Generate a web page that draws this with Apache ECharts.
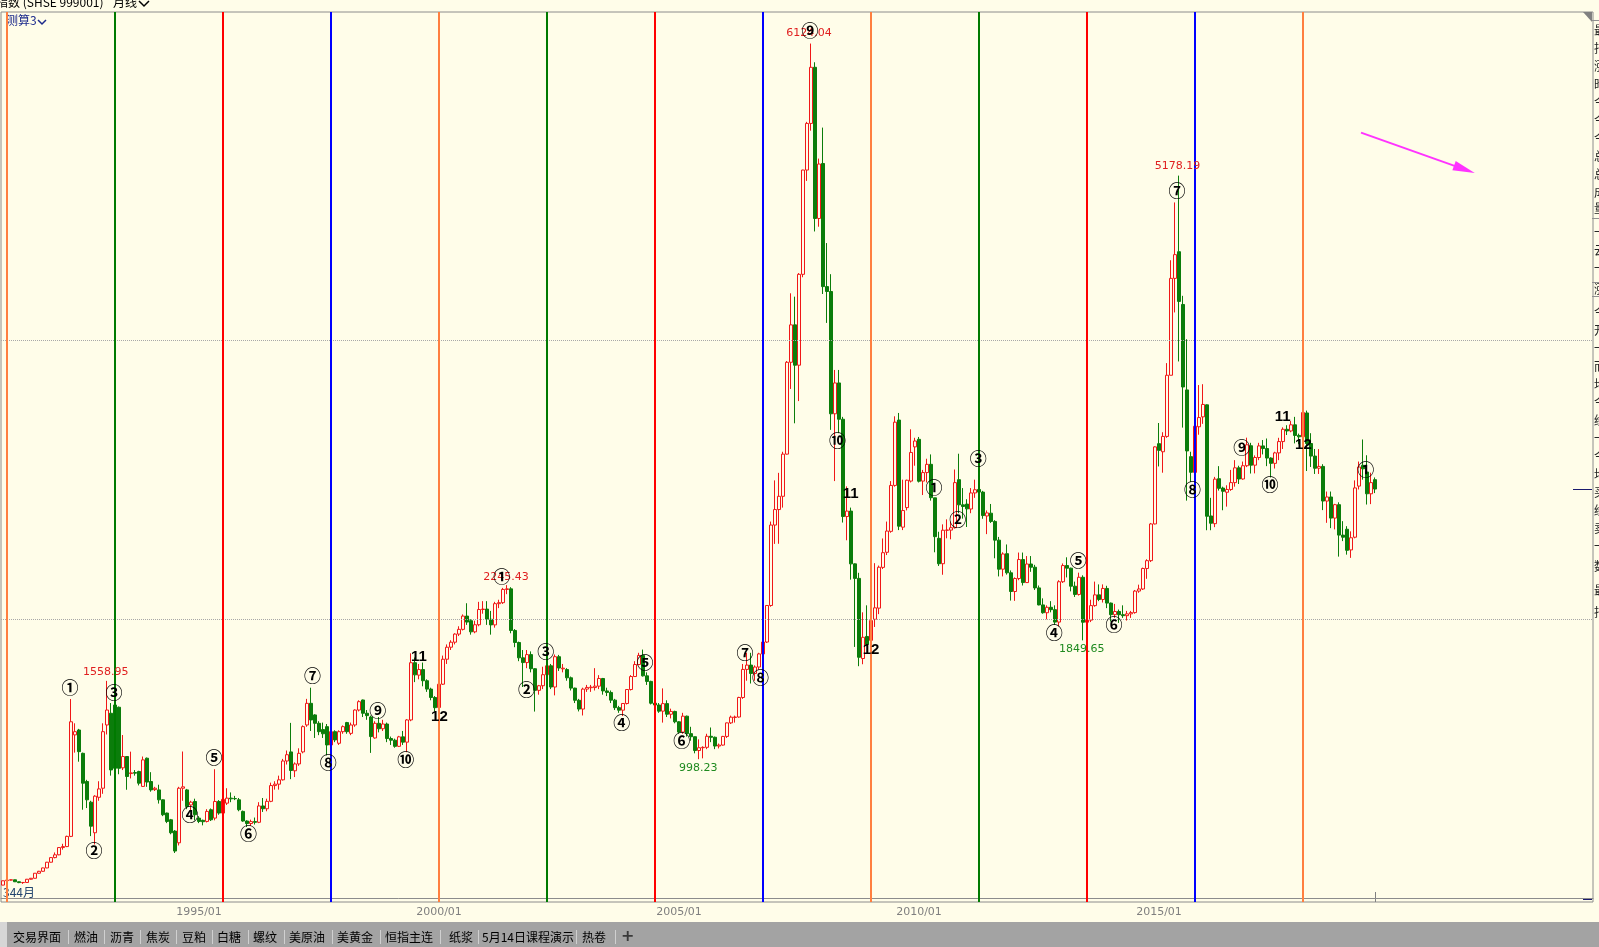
<!DOCTYPE html>
<html><head><meta charset="utf-8">
<script src="https://cdn.jsdelivr.net/npm/echarts@6.0.0/dist/echarts.min.js"></script>
<style>html,body{margin:0;padding:0;background:#fffde9;overflow:hidden}#c{width:1599px;height:947px}</style>
</head><body><div id="c"></div><script>
// Monthly candles of SHSE 999001: rows are [open, close, low, high]
const ohlc1990s = [
 [96,127,95,128],
 [128,132,126,135],[132,134,129,136],[134,120,118,135],[120,114,110,121],[114,115,105,116],[115,138,112,140],[138,145,136,147],[145,181,144,182],[181,195,179,198],[195,219,192,221],[219,260,217,262],[260,293,258,295],
 [293,313,288,330],[313,365,310,366],[365,372,350,392],[372,445,368,450],[445,1266,440,1429],[1172,1195,1045,1255],[1207,1052,980,1215],[1040,826,636,1045],[838,707,648,850],[690,518,447,700],[471,733,387,740],[725,785,700,840],
 [790,1195,750,1255],[1243,1350,1175,1559],[1327,921,880,1400],[1386,933,900,1410],[1370,933,890,1375],[936,1017,920,1171],[1017,874,779,1020],[895,900,860,1052],[902,898,880,920],[910,826,810,915],[803,993,800,1017],[1005,834,800,1010],
 [838,778,765,905],[780,790,770,800],[778,707,680,815],[707,600,590,710],[612,552,540,615],[564,471,460,570],[483,340,326,490],[399,790,380,800],[790,800,700,1053],[778,659,640,785],[670,690,630,700],[695,600,560,715],
 [576,552,540,590],[560,550,524,565],[552,624,545,640],[636,564,555,645],[576,695,560,926],[695,612,600,705],[612,710,600,720],[683,719,670,790],[719,714,690,760],[716,715,705,735],[707,636,625,720],[624,555,550,630],
 [555,537,512,560],[537,551,520,565],[551,546,530,580],[546,663,540,690],[663,643,620,720],[643,696,625,715],[696,809,690,830],[809,819,780,840],[819,850,780,880],[850,985,845,1000],[985,1030,960,1060],[1050,917,855,1258],
 [915,964,870,975],[964,1040,950,1076],[1050,1231,1040,1240],[1243,1398,1230,1430],[1398,1279,1200,1510],[1315,1255,1150,1320],[1255,1195,1170,1270],[1210,1180,1150,1260],[1231,1100,1025,1250],[1100,1195,1090,1200],[1195,1136,1120,1205],[1112,1195,1100,1205],
 [1195,1231,1180,1240],[1260,1195,1180,1265],[1183,1243,1170,1260],[1243,1350,1230,1355],[1350,1410,1340,1420],[1422,1327,1300,1425],[1327,1310,1280,1350],[1300,1160,1043,1310],[1150,1255,1145,1270],[1255,1216,1190,1300],[1216,1250,1200,1280],[1250,1146,1120,1260],
 [1146,1134,1100,1160],[1134,1090,1080,1145],[1090,1158,1085,1165],[1158,1120,1100,1200],[1120,1279,1048,1285],[1279,1689,1270,1756],[1689,1602,1550,1726],[1600,1640,1570,1680],[1640,1560,1520,1690],[1560,1500,1480,1570],[1500,1440,1420,1510],[1440,1367,1341,1450]
];
const ohlc2000s = [
 [1368,1535,1360,1560],[1535,1714,1530,1740],[1714,1800,1680,1820],[1800,1836,1780,1850],[1836,1894,1820,1900],[1894,1928,1880,1950],[1928,2023,1920,2035],[2023,1980,1960,2115],[1990,1910,1890,2000],[1910,1961,1900,1990],[1961,2070,1950,2125],[2070,2073,2040,2130],
 [2073,2000,1960,2130],[2000,1960,1890,2060],[1960,2112,1940,2125],[2112,2119,2080,2140],[2119,2214,2110,2225],[2214,2218,2180,2245],[2218,1920,1900,2230],[1920,1834,1800,1930],[1834,1724,1700,1840],[1724,1690,1515,1780],[1690,1747,1650,1780],[1747,1646,1620,1770],
 [1646,1491,1339,1650],[1491,1524,1460,1530],[1524,1603,1500,1660],[1603,1667,1580,1680],[1667,1515,1500,1680],[1515,1732,1455,1748],[1732,1651,1630,1745],[1645,1650,1620,1680],[1640,1581,1560,1650],[1581,1507,1490,1590],[1507,1420,1400,1510],[1420,1357,1340,1430],
 [1357,1500,1311,1510],[1500,1512,1480,1530],[1510,1514,1480,1530],[1511,1521,1490,1650],[1521,1576,1500,1600],[1576,1487,1460,1580],[1487,1476,1450,1510],[1476,1421,1400,1490],[1421,1367,1350,1430],[1367,1349,1330,1380],[1349,1397,1307,1400],[1397,1497,1390,1500],
 [1497,1590,1490,1600],[1590,1676,1590,1700],[1676,1741,1670,1760],[1741,1595,1590,1783],[1595,1555,1530,1620],[1555,1399,1390,1560],[1399,1386,1350,1420],[1386,1342,1330,1400],[1342,1396,1260,1505],[1396,1320,1300,1420],[1320,1340,1290,1360],[1340,1266,1255,1345],
 [1266,1192,1180,1270],[1192,1306,1180,1330],[1306,1181,1160,1310],[1181,1159,1130,1230],[1159,1060,1040,1160],[1060,1080,998,1140],[1080,1083,1004,1090],[1083,1162,1070,1180],[1162,1155,1120,1225],[1155,1092,1070,1160],[1092,1099,1075,1110],[1099,1161,1095,1165],
 [1161,1258,1150,1260],[1258,1299,1250,1310],[1297,1300,1260,1310],[1300,1440,1295,1445],[1440,1641,1430,1680],[1641,1672,1560,1760],[1672,1612,1540,1760],[1612,1658,1560,1670],[1658,1752,1640,1760],[1752,1837,1740,1840],[1837,2099,1830,2100],[2099,2675,2090,2700],
 [2675,2786,2540,2995],[2786,2881,2541,3049],[2881,3183,2800,3200],[3183,3841,3180,3850],[3841,4109,3650,4335],[4109,3820,3404,4311],[3820,4471,3563,4480],[4471,5218,4450,5220],[5218,5552,5140,5563],[5552,5954,5500,6124],[5954,4871,4778,5990],[4871,5261,4812,5300],
 [5265,4383,4330,5522],[4383,4348,4123,4695],[4348,3472,3357,4472],[3472,3693,2990,3786],[3693,3433,3333,3786],[3433,2736,2693,3450],[2736,2775,2566,2952],[2775,2397,2284,2800],[2397,2293,1802,2400],[2293,1728,1664,2333],[1719,1871,1678,2050],[1877,1820,1814,2100],
 [1849,1991,1844,2010],[2000,2082,1945,2402],[2080,2373,2037,2385],[2372,2477,2360,2579],[2480,2632,2460,2700],[2630,2959,2620,2990],[2959,3412,2950,3454],[3427,2667,2639,3478],[2660,2779,2639,3000],[2800,2996,2780,3000],[2990,3195,2980,3361],[3235,3277,3100,3300]
];
const ohlc2010s = [
 [3289,2989,2980,3306],[2990,3051,2890,3070],[3051,3110,2980,3150],[3110,2871,2850,3181],[2870,2592,2480,2870],[2580,2398,2382,2627],[2398,2638,2319,2680],[2638,2639,2580,2716],[2639,2656,2573,2700],[2656,2979,2650,3073],[3000,2820,2760,3186],[2820,2808,2721,2940],
 [2825,2791,2661,2860],[2790,2905,2760,2940],[2905,2928,2870,3000],[2930,2911,2900,3067],[2911,2743,2720,2920],[2740,2762,2610,2780],[2760,2701,2690,2826],[2701,2567,2437,2710],[2567,2359,2307,2590],[2359,2468,2307,2480],[2470,2333,2320,2536],[2333,2199,2134,2350],
 [2199,2292,2132,2300],[2292,2428,2280,2478],[2428,2263,2242,2478],[2263,2396,2260,2453],[2396,2373,2340,2453],[2373,2225,2210,2390],[2225,2103,2100,2242],[2103,2047,2040,2150],[2047,2086,2000,2100],[2086,2069,2050,2130],[2069,1980,1960,2100],[1980,2269,1949,2280],
 [2269,2385,2260,2400],[2385,2366,2300,2444],[2366,2237,2200,2370],[2237,2178,2160,2270],[2178,2301,2170,2334],[2301,1979,1849,2315],[1979,1994,1950,2090],[1994,2098,1980,2140],[2098,2175,2090,2270],[2175,2142,2130,2250],[2142,2221,2120,2250],[2221,2116,2080,2240],
 [2116,2033,1984,2120],[2033,2056,2010,2110],[2056,2033,1974,2070],[2033,2026,2010,2100],[2026,2039,1991,2060],[2039,2048,2010,2060],[2048,2202,2040,2210],[2202,2217,2190,2248],[2217,2364,2210,2370],[2364,2420,2290,2430],[2420,2683,2410,2690],[2683,3235,2680,3239],
 [3258,3210,3095,3406],[3200,3310,3050,3340],[3310,3748,3300,3835],[3748,4442,3748,4572],[4442,4612,4198,4986],[4633,4277,3847,5178],[4255,3664,3373,4317],[3643,3206,2850,4006],[3165,3053,2983,3200],[3052,3383,3039,3459],[3379,3445,3322,3678],[3450,3539,3400,3684],
 [3536,2738,2638,3539],[2740,2688,2638,2870],[2685,3004,2660,3020],[3007,2938,2922,3097],[2940,2917,2781,2950],[2910,2930,2807,2960],[2930,2979,2920,3070],[2979,3085,2950,3140],[3085,3005,2969,3100],[3005,3100,3000,3130],[3100,3250,3090,3301],[3243,3104,3044,3264],
 [3104,3159,3045,3174],[3159,3242,3140,3264],[3242,3223,3181,3284],[3223,3155,3097,3295],[3155,3117,3016,3160],[3117,3192,3080,3200],[3192,3273,3140,3300],[3273,3361,3220,3375],[3361,3349,3320,3390],[3349,3393,3340,3420],[3393,3317,3260,3450],[3317,3307,3254,3330],
 [3307,3481,3300,3587],[3478,3259,3062,3495],[3259,3169,3091,3333],[3169,3082,3041,3220],[3082,3095,3041,3219],[3095,2847,2782,3111],[2847,2876,2691,2915],[2876,2725,2653,2915],[2725,2821,2644,2827],[2821,2603,2449,2838],[2603,2588,2560,2703],[2645,2494,2463,2667],
 [2497,2584,2440,2630],[2588,2941,2580,2995],[2954,3091,2930,3130],[3103,3078,3000,3288],[3055,2899,2822,3175],[2899,2979,2825,3050],[3000,2933,2904,3016]
];
const startYear = 1990, startMonth = 12;
const slotCount = 398; // months on the axis, data plus empty future
const tickLabels = ['1995/01','2000/01','2005/01','2010/01','2015/01'];
const gridLevels = [2000, 4000];
const cycleMonths = ['1991/01','1993/04','1995/07','1997/10','2000/01','2002/04','2004/07','2006/10','2009/01','2011/04','2013/07','2015/10','2018/01'];
const cycleColors = ['#ff7f3f','#007a00','#ff0000','#0000ff'];
// annotations: [text, month position, price]
const waveMarks = [
 ['①',16.75,1510],['②',22.75,343],['③',27.75,1477],['④',46.75,603],['⑤',52.75,1011],['⑥',61.4,468],['⑦',77.4,1596],['⑧',81.3,976],['⑨',93.7,1345],['⑩',100.7,997],
 ['①',124.7,2305],['②',130.9,1499],['③',135.7,1768],['④',154.7,1259],['⑤',160.5,1689],['⑥',169.7,1135],['⑦',185.5,1764],['⑧',189.4,1584],['⑨',201.75,6217],['⑩',208.6,3280],
 ['①',232.75,2945],['②',238.7,2711],['③',243.8,3150],['④',262.8,1907],['⑤',268.8,2420],['⑥',277.75,1959],['⑦',293.5,5070],['⑧',297.4,2931],['⑨',309.7,3229],['⑩',316.75,2967],
 ['①',340.7,3074]
];
const countMarks = [['11',104,1732],['12',109.1,1302],['11',211.9,2900],['12',217,1783],['11',319.9,3451],['12',325.1,3248]];
const highLabels = [['1558.95',25.7,1622],['2245.43',125.75,2305],['6124.04',201.5,6195],['5178.19',293.6,5247]];
const lowLabels = [['998.23',173.8,933],['1849.65',269.7,1785]];
const arrowFrom = [339.5,5486], arrowTo = [365.35,5223];
const tabNames = [['交易界面',13],['燃油',74],['沥青',110],['焦炭',146],['豆粕',182],['白糖',217],['螺纹',253],['美原油',289],['美黄金',337],['恒指主连',385],['纸浆',449],['5月14日课程演示',482],['热卷',582]];
const tabSeps = [68,104,140,176,212,248,284,332,380,440,478,576,615];
const sideChars = '最指涨昨今今今总总成量一云一涨今开一而均今经一今均买经卖一数';

const candles = ohlc1990s.concat(ohlc2000s, ohlc2010s);
const categories = [];
for (let k = 0; k < slotCount; k++) {
  const m = startMonth - 1 + k;
  categories.push((startYear + Math.floor(m / 12)) + '/' + String(m % 12 + 1).padStart(2, '0'));
}
const CJK = '"Noto Sans CJK SC", sans-serif';
const BG = '#fffde9';

function labelSeries(list, color, font, size, weight) {
  return {
    type: 'scatter', xAxisIndex: 1, yAxisIndex: 0, symbol: 'circle', symbolSize: 1, z: 10, silent: true,
    itemStyle: { color: 'rgba(0,0,0,0)' },
    data: list.map(d => [d[1], d[2], d[0]]),
    label: { show: true, position: 'inside', formatter: p => p.value[2], color: color, opacity: 1,
      fontFamily: font, fontSize: size, fontWeight: weight, align: 'center', verticalAlign: 'middle' }
  };
}

const graphics = [];
graphics.push({type:'rect', silent:true, shape:{x:0,y:922,width:1599,height:25}, style:{fill:'#a3a3a3'}});
graphics.push({type:'rect', silent:true, shape:{x:0,y:922,width:7,height:25}, style:{fill:'#d6d6d6'}});
tabNames.forEach(t => graphics.push({type:'text', silent:true, x:t[1], y:937, style:{text:t[0], fill:'#000', fontSize:12, fontFamily:CJK, verticalAlign:'middle'}}));
tabSeps.forEach(x => graphics.push({type:'line', silent:true, shape:{x1:x+0.5,y1:930,x2:x+0.5,y2:944}, style:{stroke:'#d0d0d0', lineWidth:1}}));
graphics.push({type:'text', silent:true, x:621, y:937, style:{text:'+', fill:'#3a3a3a', fontSize:16, fontWeight:'bold', fontFamily:'DejaVu Sans', verticalAlign:'middle'}});
graphics.push({type:'text', silent:true, x:-4, y:2, style:{text:'指数 (SHSE 999001)', fill:'#000', fontSize:12, fontFamily:CJK, verticalAlign:'middle'}});
graphics.push({type:'text', silent:true, x:113, y:2, style:{text:'月线', fill:'#000', fontSize:12, fontFamily:CJK, verticalAlign:'middle'}});
graphics.push({type:'polyline', silent:true, shape:{points:[[139,1],[144,6],[149,1]]}, style:{stroke:'#000', lineWidth:1.5, fill:null}});
graphics.push({type:'text', silent:true, x:6, y:20, style:{text:'测算3', fill:'#1c2a8c', fontSize:12, fontFamily:CJK, verticalAlign:'middle'}});
graphics.push({type:'polyline', silent:true, shape:{points:[[38,20],[42,24],[46,20]]}, style:{stroke:'#1c2a8c', lineWidth:1.5, fill:null}});
graphics.push({type:'polygon', silent:true, shape:{points:[[1583,12],[1592,12],[1592,22]]}, style:{fill:'#808080'}});
graphics.push({type:'text', silent:true, x:3, y:892, style:{text:'344月', fill:'#23456e', fontSize:12, fontFamily:CJK, verticalAlign:'middle'}});
[20,218,282,296].forEach(y => graphics.push({type:'line', silent:true, shape:{x1:1592,y1:y+0.5,x2:1599,y2:y+0.5}, style:{stroke:'#909090', lineWidth:1}}));
const sideY = [30,48,66,84,102,120,138,156,174,192,208,232,250,268,289,312,330,348,366,384,402,420,438,456,474,492,510,528,546,566,590,612];
sideY.forEach((y, k) => graphics.push({type:'text', silent:true, x:1594, y:y, style:{text:sideChars[k % sideChars.length], fill:'#222', fontSize:12, fontFamily:CJK, verticalAlign:'middle'}}));

const chart = echarts.init(document.getElementById('c'));
chart.setOption({
  animation: false,
  backgroundColor: BG,
  grid: { left: 1, top: 12, width: 1592, height: 890, show: true, borderColor: '#8c8c8c', borderWidth: 1, backgroundColor: 'transparent', containLabel: false, outerBoundsMode: 'none' },
  xAxis: [
    { type: 'category', data: categories, boundaryGap: true,
      axisLine: { show: true, lineStyle: { color: '#8c8c8c' } }, axisTick: { show: false },
      splitLine: { show: false },
      axisLabel: { interval: (i, v) => tickLabels.indexOf(v) >= 0, color: '#7f7f7f', fontSize: 11, fontFamily: 'DejaVu Sans', margin: 5, hideOverlap: false } },
    { type: 'value', min: -0.5, max: slotCount - 0.5, show: false }
  ],
  yAxis: [{ type: 'value', min: -25, max: 6350, show: false, splitLine: { show: false } }],
  graphic: graphics,
  series: [
    { type: 'candlestick', xAxisIndex: 0, yAxisIndex: 0, data: candles, barWidth: 3, z: 3, silent: true,
      itemStyle: { color: BG, color0: '#0b7d0b', borderColor: '#f01818', borderColor0: '#0b7d0b', borderWidth: 1 },
      markLine: { silent: true, symbol: ['none','none'], label: { show: false },
        lineStyle: { color: '#a8a8a8', type: 'dotted', width: 1 },
        data: gridLevels.map(v => ({ yAxis: v })) } },
    { type: 'line', xAxisIndex: 0, yAxisIndex: 0, data: [], z: 6, silent: true,
      markLine: { silent: true, symbol: ['none','none'], label: { show: false },
        data: cycleMonths.map((m, k) => ({ xAxis: m, lineStyle: { color: cycleColors[k % 4], width: 2, type: 'solid' } })) } },
    Object.assign(labelSeries([], '#000', CJK, 12, 'normal'), {
      markLine: { silent: true, symbol: ['none','triangle'], symbolSize: [10, 22], label: { show: false },
        lineStyle: { color: '#ff33ff', width: 2, type: 'solid' },
        data: [[{ coord: arrowFrom }, { coord: arrowTo }]] } }),
    labelSeries(highLabels, '#e02020', 'DejaVu Sans', 11, 'normal'),
    labelSeries(lowLabels, '#1f8a1f', 'DejaVu Sans', 11, 'normal'),
    labelSeries(waveMarks, '#000', CJK, 17, 'bold'),
    labelSeries(countMarks, '#000', '"Liberation Sans", Arial, sans-serif', 15, 'bold')
  ]
});

// price markers on the right edge and the current-bar tick, placed through the axes
const last = candles.length - 1;
const lastX = chart.convertToPixel({ xAxisIndex: 0 }, categories[last]);
const lastY = chart.convertToPixel({ yAxisIndex: 0 }, candles[last][1]);
const zeroY = chart.convertToPixel({ yAxisIndex: 0 }, 0);
graphics.push({type:'line', silent:true, shape:{x1:1573,y1:Math.round(lastY)+0.5,x2:1592,y2:Math.round(lastY)+0.5}, style:{stroke:'#1a1a6e', lineWidth:1}});
graphics.push({type:'line', silent:true, shape:{x1:1583,y1:Math.round(zeroY)+0.5,x2:1592,y2:Math.round(zeroY)+0.5}, style:{stroke:'#1a1a6e', lineWidth:1}});
graphics.push({type:'line', silent:true, shape:{x1:Math.round(lastX)+0.5,y1:892,x2:Math.round(lastX)+0.5,y2:902}, style:{stroke:'#808080', lineWidth:1}});
chart.setOption({ graphic: graphics });
</script></body></html>
